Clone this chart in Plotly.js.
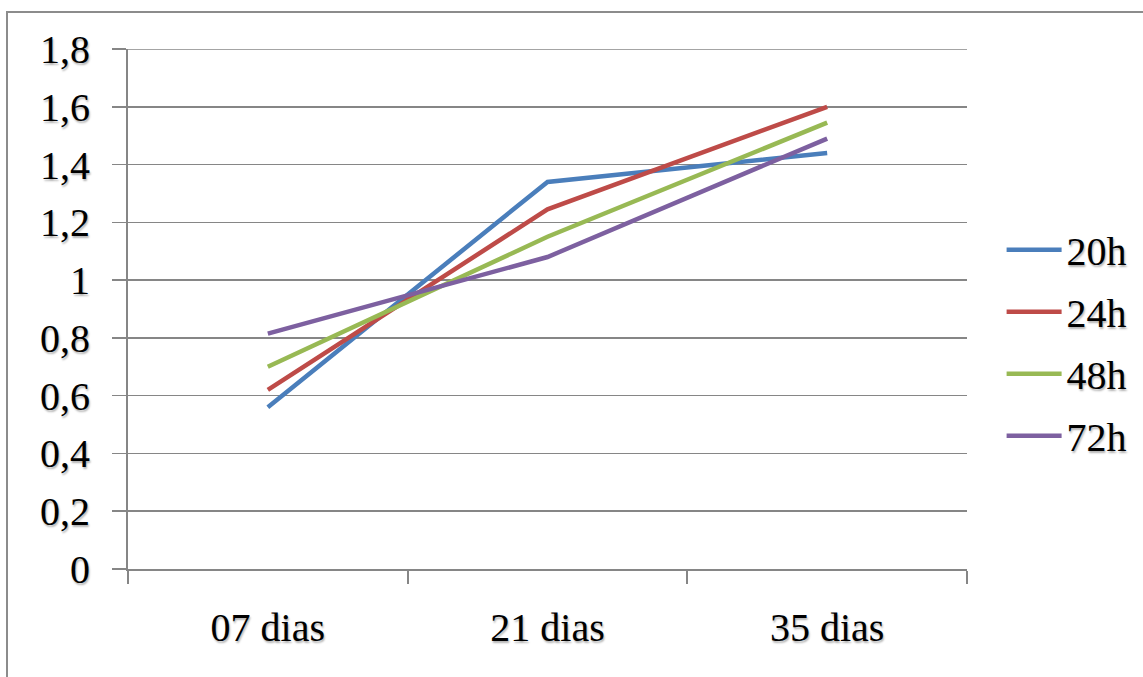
<!DOCTYPE html>
<html>
<head>
<meta charset="utf-8">
<script src="https://cdn.plot.ly/plotly-3.0.1.min.js"></script>
<style>
  html, body { margin: 0; padding: 0; background: #fff; }
  #wrap { position: relative; width: 1143px; height: 677px; overflow: hidden; }
  #chart { position: absolute; left: 0; top: 0; width: 1143px; height: 677px; }
  #frame { position: absolute; left: 6px; top: 11px; width: 1200px; height: 700px;
           border-left: 2px solid #8c8c8c; border-top: 2px solid #8c8c8c; pointer-events: none; }
</style>
</head>
<body>
<div id="wrap">
  <div id="chart"></div>
  <div id="frame"></div>
</div>
<script>
const categories = ["07 dias", "21 dias", "35 dias"];
const seriesNames = ["20h", "24h", "48h", "72h"];
const s20h = [0.56, 1.34, 1.44];
const s24h = [0.62, 1.245, 1.60];
const s48h = [0.70, 1.15, 1.545];
const s72h = [0.815, 1.08, 1.49];
const colors = ["#4A7EBB", "#BE4B48", "#98B954", "#7D60A0"];
const yTicks = [0, 0.2, 0.4, 0.6, 0.8, 1, 1.2, 1.4, 1.6, 1.8];

const allSeries = [s20h, s24h, s48h, s72h];
const traces = allSeries.map((vals, i) => ({
  type: "scatter",
  mode: "lines",
  x: categories,
  y: vals,
  name: seriesNames[i],
  legendgroup: seriesNames[i],
  line: { color: colors[i], width: 4.5 }
}));

const fam = "Liberation Serif";
const txt = { family: fam, size: 40, color: "#000", shadow: "1px 2px 2px rgba(0,0,0,0.3)" };

const layout = {
  width: 1143, height: 677,
  margin: { l: 128, r: 175, t: 49, b: 108 },
  paper_bgcolor: "#fff", plot_bgcolor: "#fff",
  separators: ", ",
  font: txt,
  showlegend: true,
  legend: {
    x: 1.04, xanchor: "left", y: 0.435, yanchor: "middle",
    font: txt,
    tracegroupgap: 7, itemwidth: 55
  },
  xaxis: {
    type: "category",
    range: [-0.5, 2.5],
    showgrid: false,
    showline: true, linecolor: "#868686", linewidth: 2,
    ticks: "outside", tickson: "boundaries", ticklen: 13, tickwidth: 2, tickcolor: "#868686",
    ticklabelstandoff: 22,
    tickfont: txt,
    zeroline: false, fixedrange: true
  },
  yaxis: {
    range: [0, 1.8],
    tickvals: yTicks,
    showgrid: true, gridcolor: "#868686", gridwidth: 1.5,
    showline: true, linecolor: "#868686", linewidth: 2,
    ticks: "outside", ticklen: 14, tickwidth: 1.5, tickcolor: "#868686",
    ticklabelstandoff: 14,
    tickfont: txt,
    zeroline: false, fixedrange: true
  },
  shapes: [{
    type: "line", xref: "paper", yref: "y", x0: 0, x1: 1, y0: 1.8, y1: 1.8,
    line: { color: "#868686", width: 1.5 }, layer: "below"
  }]
};

Plotly.newPlot("chart", traces, layout, { displayModeBar: false, staticPlot: true });
</script>
</body>
</html>
